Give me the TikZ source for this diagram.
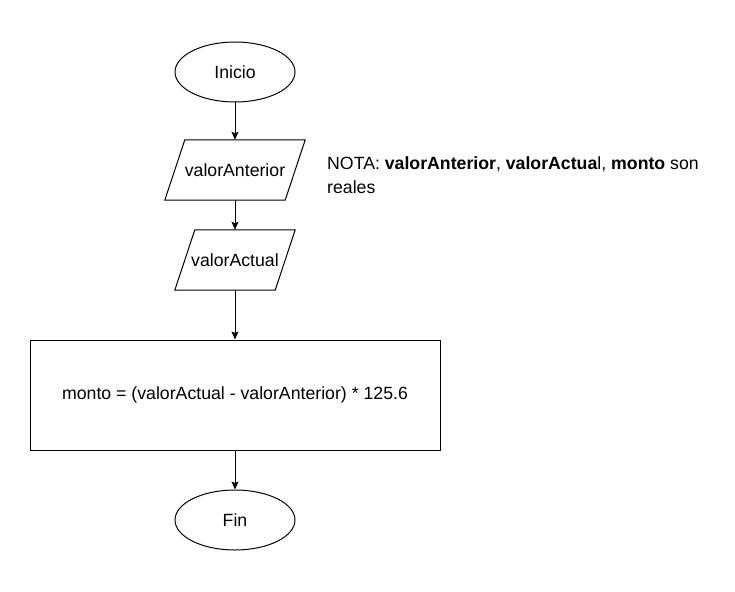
\documentclass[tikz,border=0pt]{standalone}
\usepackage{fontspec}
\setmainfont{Liberation Sans}
\usetikzlibrary{shapes.geometric,arrows.meta}
\begin{document}
\begin{tikzpicture}[x=1pt,y=-1pt,
  every node/.style={font=\fontsize{17.7}{21}\selectfont, inner sep=0pt},
  terminal/.style={ellipse, draw, line width=1pt, minimum width=120pt, minimum height=60pt},
  iobox/.style={rectangle, draw=none, minimum height=60pt},
  procbox/.style={rectangle, draw, line width=1pt, minimum width=410pt, minimum height=110pt},
  flow/.style={line width=1pt, -{Stealth[length=8pt,width=7pt,inset=1.5pt]}},
  shapeline/.style={line width=1pt}]
\useasboundingbox (0,0) rectangle (735,591);
\fill[white] (0,0) rectangle (735,591);
\node[terminal] (inicio) at (235,72) {Inicio};
\node[iobox, minimum width=140pt] (p1) at (235,170) {valorAnterior};
\node[iobox, minimum width=120pt] (p2) at (235,260) {valorActual};
\node[procbox] (calc) at (235,395) {monto = (valorActual - valorAnterior) * 125.6};
\node[terminal] (fin) at (235,520) {Fin};
\draw[shapeline] ([xshift=20pt]p1.north west) -- (p1.north east) -- ([xshift=-20pt]p1.south east) -- (p1.south west) -- cycle;
\draw[shapeline] ([xshift=20pt]p2.north west) -- (p2.north east) -- ([xshift=-20pt]p2.south east) -- (p2.south west) -- cycle;
\node[anchor=north west, align=left, font=\fontsize{17.7}{24}\selectfont] (nota) at (327,156)
  {NOTA: \textbf{valorAnterior}, \textbf{valorActua}l, \textbf{monto} son\\reales};
\draw[flow] (inicio) -- (p1);
\draw[flow] (p1) -- (p2);
\draw[flow] (p2) -- (calc);
\draw[flow] (calc) -- (fin);
\end{tikzpicture}
\end{document}
